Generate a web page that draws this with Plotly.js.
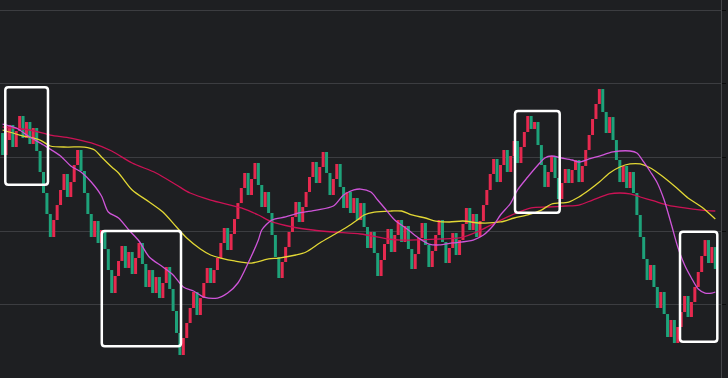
<!DOCTYPE html>
<html><head><meta charset="utf-8">
<script src="https://cdn.plot.ly/plotly-3.0.1.min.js"></script>
<style>html,body{margin:0;padding:0;background:#1e1f22;overflow:hidden}#chart{width:728px;height:378px}</style>
</head><body><div id="chart"></div>
<script>
// ---- data (candle index is implicit 0..n-1) ----
const openPrice = [
33.33,30.35,32.38,34.42,31.43,33.60,35.64,32.65,34.83,31.84,
34.01,30.89,28.04,25.19,22.34,19.22,21.53,23.56,25.60,27.77,
24.65,26.68,28.99,31.03,28.18,25.19,22.34,19.22,21.39,18.41,
20.17,17.59,14.74,11.62,13.93,15.97,18.00,15.02,17.19,14.20,
16.37,18.41,15.56,12.44,14.74,11.62,13.79,10.94,12.98,15.15,
12.17,9.18,6.20,3.21,5.52,7.55,9.59,11.76,8.64,10.94,
12.98,15.02,12.98,14.74,16.37,18.41,20.44,17.46,19.63,21.66,
23.83,25.87,27.91,24.92,27.09,29.26,26.28,23.29,25.33,22.48,
19.49,16.51,13.66,15.83,17.86,19.90,21.94,23.97,21.26,23.29,
25.33,27.36,29.40,26.55,28.72,30.76,27.91,24.92,27.09,29.13,
26.01,23.16,25.33,22.48,24.51,21.53,23.83,20.58,17.73,19.90,
17.05,13.93,16.10,18.27,20.31,17.19,19.49,21.53,18.54,20.71,
17.59,14.88,16.91,19.09,21.12,18.14,15.15,17.32,19.49,21.53,
18.54,15.69,17.73,19.76,16.78,18.81,20.99,23.16,20.17,22.34,
19.22,21.39,23.56,25.60,27.77,29.81,26.68,28.99,31.03,28.04,
30.21,32.25,29.26,31.43,33.47,35.64,33.88,34.83,31.70,28.99,
26.01,28.04,30.21,27.23,24.38,26.55,28.45,26.55,28.31,29.67,
26.68,28.86,31.03,33.06,35.23,37.27,39.30,36.18,33.33,35.50,
32.38,29.67,26.68,28.86,25.87,28.04,25.19,22.21,19.22,16.24,
13.39,15.42,12.44,9.59,11.76,8.77,5.65,7.96,4.84,7.01,
9.04,11.22,8.37,10.40,12.44,14.47,16.64,18.81,15.69,17.86];
const closePrice = [
30.35,34.28,34.42,31.43,33.60,35.64,32.65,34.83,31.84,34.01,
30.89,28.04,25.19,22.34,19.22,21.53,23.56,25.60,27.77,24.65,
26.68,28.99,31.03,28.18,25.19,22.34,19.22,21.39,18.41,20.17,
17.59,14.74,11.62,13.93,15.97,18.00,15.02,17.19,14.20,16.37,
18.41,15.56,12.44,14.74,11.62,13.79,10.94,12.98,15.15,12.17,
9.18,6.20,3.21,5.52,7.55,9.59,11.76,8.64,10.94,12.98,
15.02,12.98,14.74,16.37,18.41,20.44,17.46,19.63,21.66,23.83,
25.87,27.91,24.92,27.09,29.26,26.28,23.29,25.33,22.48,19.49,
16.51,13.66,15.83,17.86,19.90,21.94,23.97,21.26,23.29,25.33,
27.36,29.40,26.55,28.72,30.76,27.91,24.92,27.09,29.13,26.01,
23.16,25.33,22.48,24.51,21.53,23.83,20.58,17.73,19.90,17.05,
13.93,16.10,18.27,20.31,17.19,19.49,21.53,18.54,20.71,17.59,
14.88,16.91,19.09,21.12,18.14,15.15,17.32,19.49,21.53,18.54,
15.69,17.73,19.76,16.78,18.81,20.99,23.16,20.17,22.34,19.22,
21.39,23.56,25.60,27.77,29.81,26.68,28.99,31.03,28.04,30.21,
32.25,29.26,31.43,33.47,35.64,33.88,34.83,31.70,28.99,26.01,
28.04,30.21,27.23,24.38,26.55,28.45,26.55,28.31,29.67,26.68,
28.86,31.03,33.06,35.23,37.27,39.30,36.18,33.33,35.50,32.38,
29.67,26.68,28.86,25.87,28.04,25.19,22.21,19.22,16.24,13.39,
15.42,12.44,9.59,11.76,8.77,5.65,7.96,4.84,7.01,9.04,
11.22,8.37,10.40,12.44,14.47,16.64,18.81,15.69,17.86,14.88];

const maShortIndex = [0,4,8,12,17,20,23,26,29,31,34,37,40,43,47,50,53,56,59,63,66,69,72,75,76,79,83,87,92,97,100,103,105,108,110,112,115,119,122,125,128,132,138,141,144,146,149,151,154,157,159,161,164,167,169,172,175,179,184,186,188,190,192,194,196,198,200,202,204,206,208,209];
const maShortValue = [34.55,34.01,32.79,31.70,30.21,28.86,28.04,26.68,24.79,22.61,21.80,20.17,18.68,16.51,15.15,14.07,12.44,11.89,11.08,10.94,11.62,12.98,15.69,18.81,20.17,21.53,21.94,22.48,22.88,23.43,24.92,25.60,25.73,25.33,24.24,23.16,21.53,20.17,19.09,18.27,18.14,18.41,18.81,19.49,20.85,22.21,23.83,25.60,27.36,28.99,29.94,30.21,29.94,29.67,29.40,29.81,30.21,30.76,30.89,30.62,29.40,28.04,26.55,24.24,21.12,17.86,15.42,13.66,12.17,11.62,11.62,11.76];

const maMidIndex = [0,5,11,14,19,24,27,29,32,34,38,43,47,51,54,58,61,64,68,73,78,81,86,89,93,97,101,104,106,109,114,117,120,124,127,131,135,140,146,150,154,158,161,166,169,172,175,178,181,184,187,190,193,197,201,205,209];
const maMidValue = [33.74,33.06,32.38,31.57,31.43,31.43,31.03,30.08,28.72,27.91,25.60,23.97,22.61,20.58,19.09,17.59,16.78,16.37,15.97,15.69,16.24,16.37,16.78,17.19,18.41,19.49,20.58,21.53,22.21,22.61,22.75,22.75,22.21,21.80,21.39,21.26,21.39,21.12,21.26,21.80,22.21,22.88,23.70,23.97,24.65,25.60,26.68,27.91,28.72,29.13,29.13,28.58,27.63,26.14,24.51,23.29,21.66];

const maLongIndex = [0,8,14,20,26,32,38,45,51,55,61,70,75,79,85,91,97,105,113,117,128,134,140,145,150,155,160,165,169,173,178,181,184,187,191,195,200,205,209];
const maLongValue = [34.15,33.74,33.06,32.65,31.98,30.89,29.26,27.91,26.28,25.19,24.24,23.16,22.21,21.26,20.58,20.17,19.90,19.63,18.95,18.81,18.95,19.09,20.10,21.26,22.34,23.16,23.29,23.43,23.56,24.24,25.06,25.19,25.06,24.65,24.11,23.56,23.16,22.88,22.75];

const gridValues = [10, 20, 30, 40, 50];

// ---- presentation ----
const xRange = [-0.76, 210.67];
const yRange = [0.09, 51.38];
const plotW = 721, plotH = 378;
const upColor = '#e6294f', downColor = '#1ea27a';
// highlight boxes: [x0, x1, yBottom, yTop] in axis units
const highlightBoxes = [
  [0.79, 13.31, 26.32, 39.53],
  [29.09, 52.32, 4.39, 20.03],
  [150.26, 163.37, 22.52, 36.32],
  [198.65, 209.59, 5.01, 19.94]
];

const bodyBase = openPrice.map((o, i) => Math.min(o, closePrice[i]));
const bodyLen = openPrice.map((o, i) => Math.abs(closePrice[i] - o));
const bodyColor = openPrice.map((o, i) => closePrice[i] >= o ? upColor : downColor);

const candles = {
  type: 'bar', base: bodyBase, y: bodyLen,
  marker: {color: bodyColor, line: {width: 0}},
  hoverinfo: 'skip'
};
function maTrace(x, y, color) {
  return {type: 'scatter', mode: 'lines', x: x, y: y,
    line: {color: color, width: 1.3, shape: 'spline', smoothing: 0.8}, hoverinfo: 'skip'};
}

const rx = 3 * (xRange[1] - xRange[0]) / plotW;
const ry = 3 * (yRange[1] - yRange[0]) / plotH;
function roundedPath(b) {
  const [x0, x1, y0, y1] = b;
  return `M ${x0+rx},${y1} L ${x1-rx},${y1} Q ${x1},${y1} ${x1},${y1-ry} L ${x1},${y0+ry} Q ${x1},${y0} ${x1-rx},${y0} L ${x0+rx},${y0} Q ${x0},${y0} ${x0},${y0+ry} L ${x0},${y1-ry} Q ${x0},${y1} ${x0+rx},${y1} Z`;
}
const shapes = highlightBoxes.map(b => ({
  type: 'path', xref: 'x', yref: 'y', path: roundedPath(b),
  line: {color: '#ffffff', width: 2.5}, fillcolor: 'rgba(0,0,0,0)', layer: 'above'
}));

const layout = {
  width: 728, height: 378,
  margin: {l: 0, r: 7, t: 0, b: 0, pad: 0},
  paper_bgcolor: '#1e1f22', plot_bgcolor: '#1e1f22',
  showlegend: false, bargap: 0.12,
  xaxis: {range: xRange, showgrid: false, zeroline: false, showticklabels: false,
    ticks: '', showline: false, fixedrange: true},
  yaxis: {side: 'right', range: yRange, tickmode: 'array', tickvals: gridValues,
    showticklabels: false, ticks: 'outside', ticklen: 4, tickwidth: 1, tickcolor: '#0a0a0b',
    showgrid: true, gridcolor: '#3c3d41', gridwidth: 1, zeroline: false,
    showline: true, linecolor: '#45464a', linewidth: 1, fixedrange: true},
  shapes: shapes
};

Plotly.newPlot('chart', [
  candles,
  maTrace(maLongIndex, maLongValue, '#cc1255'),
  maTrace(maMidIndex, maMidValue, '#e3d835'),
  maTrace(maShortIndex, maShortValue, '#cf55d9')
], layout, {staticPlot: true, displayModeBar: false});
</script>
</body></html>
